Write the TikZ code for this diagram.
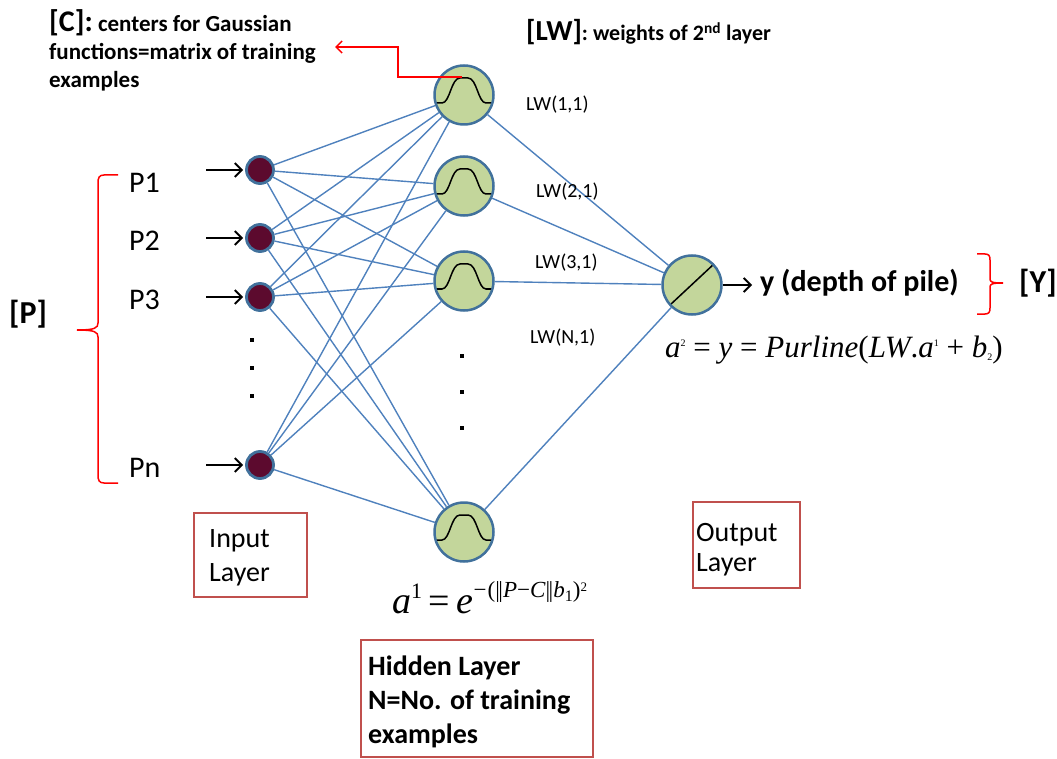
\documentclass[tikz,border=0pt]{standalone}
\usepackage{fontspec}
\setmainfont{Carlito}
\newfontfamily\tnr{Liberation Serif}
\usetikzlibrary{arrows.meta,calc}
\definecolor{lineblue}{HTML}{4F81BD}
\definecolor{nodeborder}{HTML}{41719C}
\definecolor{hidfill}{HTML}{C3D69B}
\definecolor{inpfill}{HTML}{5C0A2E}
\definecolor{boxred}{HTML}{C0504D}
\definecolor{bracered}{HTML}{FF0000}
\newcommand{\fsz}[1]{\fontsize{#1}{#1}\selectfont}
\begin{document}
\begin{tikzpicture}[x=1pt,y=-1pt,
  inp/.style={circle,fill=inpfill,draw=nodeborder,line width=2.8pt,minimum size=27pt,inner sep=0pt},
  gauss/.style={circle,fill=hidfill,draw=nodeborder,line width=2.5pt,minimum size=59pt,inner sep=0pt,
    path picture={\draw[black,line width=1.5pt,shift={(path picture bounding box.center)}]
      (-31pt,-8pt) -- (-22pt,-8pt) .. controls (-14pt,-8pt) and (-13pt,17pt) .. (-4pt,17pt)
      -- (4pt,17pt) .. controls (13pt,17pt) and (14pt,-8pt) .. (22pt,-8pt) -- (31pt,-8pt);}},
  linear/.style={circle,fill=hidfill,draw=nodeborder,line width=2.5pt,minimum size=59pt,inner sep=0pt,
    path picture={\draw[black,line width=1.5pt,shift={(path picture bounding box.center)}]
      (-22pt,-20pt) -- (23pt,22pt);}},
  conn/.style={lineblue,line width=1.4pt},
  inarrow/.style={black,line width=1.9pt,shorten >=2pt,-{Straight Barb[length=7pt,width=14pt]}},
  redarrow/.style={bracered,line width=1.5pt,-{Straight Barb[length=6pt,width=12pt]}},
  brace/.style={bracered,line width=1.5pt},
  layerbox/.style={draw=boxred,line width=2.5pt,fill=white},
  dotmark/.style={fill=black,minimum size=4pt,inner sep=0pt},
  lw/.style={font=\fsz{20},inner sep=0pt},
  plabel/.style={font=\fsz{30},anchor=west,inner sep=0pt},
  boxtext/.style={align=left,anchor=base west,inner sep=0pt},
]
\useasboundingbox (0,0) rectangle (1057,759);
% layers
\node[inp] (i1) at (260,170) {};
\node[inp] (i2) at (260,238) {};
\node[inp] (i3) at (260,297) {};
\node[inp] (in) at (260,465) {};
\node[gauss] (h1) at (464,95) {};
\node[gauss] (h2) at (464,186) {};
\node[gauss] (h3) at (464,281) {};
\node[gauss] (hn) at (464,532) {};
\node[linear] (o) at (692,285) {};
% connections input -> hidden
\foreach \a in {i1,i2,i3,in}
  \foreach \b in {h1,h2,h3,hn}
    \draw[conn] (\a) -- (\b);
\foreach \b in {h1,h2,h3,hn}
  \draw[conn] (\b) -- (o);
% input arrows
\coordinate (a1) at (206,170);
\coordinate (a2) at (206,238);
\coordinate (a3) at (206,297);
\coordinate (an) at (206,465);
\draw[inarrow] (a1) -- (i1);
\draw[inarrow] (a2) -- (i2);
\draw[inarrow] (a3) -- (i3);
\draw[inarrow] (an) -- (in);
% output arrow
\coordinate (yend) at (752,285);
\draw[inarrow,shorten >=0pt] (o) -- (yend);
% dots
\node[dotmark] (d1) at (252,340) {};
\node[dotmark] (d2) at (252,368) {};
\node[dotmark] (d3) at (252,396) {};
\node[dotmark] (d4) at (462,356) {};
\node[dotmark] (d5) at (462,392) {};
\node[dotmark] (d6) at (462,428) {};
% input labels
\node[plabel] (p1) at (129,183) {P1};
\node[plabel] (p2) at (129,241) {P2};
\node[plabel] (p3) at (129,300) {P3};
\node[plabel] (pn) at (129,468) {Pn};
% [P] brace
\draw[brace] (118,175) -- (104,175) .. controls (99,175) and (98,178) .. (98,183)
  -- (98,323) .. controls (98,328) and (95,330) .. (77,330)
  .. controls (95,330) and (98,332) .. (98,337) -- (98,475)
  .. controls (98,480) and (99,483) .. (104,483) -- (118,483);
\node[font=\bfseries\fsz{32},anchor=west,inner sep=0pt] (P) at (9,314) {[P]};
% [Y] brace
\draw[brace] (977,254) -- (985,254) .. controls (989,254) and (990,256) .. (990,260)
  -- (990,279) .. controls (990,282) and (992,283) .. (1003,283)
  .. controls (992,283) and (990,284) .. (990,287) -- (990,308)
  .. controls (990,312) and (989,314) .. (985,314) -- (977,314);
\node[font=\bfseries\fsz{32},anchor=west,inner sep=0pt] (Y) at (1019,283) {[Y]};
\node[font=\bfseries\fsz{30},anchor=west,inner sep=0pt] (yl) at (760,283) {y (depth of pile)};
% LW labels
\node[lw,anchor=west] (lw1) at (526,105) {LW(1,1)};
\node[lw,anchor=west] (lw2) at (536,192) {LW(2,1)};
\node[lw,anchor=west] (lw3) at (535,263) {LW(3,1)};
\node[lw,anchor=west] (lwn) at (530,338) {LW(N,1)};
% header texts
\node[font=\bfseries\fontsize{23}{28}\selectfont,align=left,anchor=base west,inner sep=0pt] (ctext) at (49,88)
  {{\fsz{30}[C]:} centers for Gaussian\\ functions=matrix of training\\ examples};
\node[font=\bfseries\fsz{22},anchor=base west,inner sep=0pt] (lwtext) at (526,41)
  {{\fsz{29}[LW]}: weights of 2\textsuperscript{nd} layer};
% red arrow
\coordinate (cstart) at (462,77);
\coordinate (ctip) at (335,47);
\draw[redarrow] (cstart) -- (398,77) |- (ctip);
% formulas
\node[anchor=base west,inner sep=0pt,font=\tnr\fsz{38}] (f1) at (392,613)
  {\textit{a}\raisebox{15pt}{\fsz{22}1}\,=\,\textit{e}\raisebox{16pt}{\fsz{23}\kern-1pt\textit{−}(|\kern-1.5pt|\textit{P}−\textit{C}|\kern-1.5pt|\textit{b}\raisebox{-4pt}{\fsz{16}1})\raisebox{6pt}{\fsz{13}2}}};
\node[anchor=base west,inner sep=0pt,font=\tnr\fsz{31}] (f2) at (665,357)
  {\textit{a}\raisebox{11pt}{\fsz{10}2} = \textit{y} = \textit{Purline}(\textit{LW}.\textit{a}\raisebox{11pt}{\fsz{10}1} + \textit{b}\raisebox{-3pt}{\fsz{10}2})};
% layer boxes
\draw[layerbox] (194,513) rectangle (307,597);
\node[boxtext,font=\fontsize{28}{34}\selectfont] (inlab) at (209,581) {Input\\Layer};
\draw[layerbox] (693,502) rectangle (800,588);
\node[boxtext,font=\fontsize{28}{30}\selectfont] (outlab) at (696,571) {Output\\Layer};
\draw[layerbox] (361,640) rectangle (593,757);
\node[boxtext,font=\bfseries\fontsize{28}{34}\selectfont] (hidlab) at (368,743) {Hidden Layer\\N=No. of training\\examples};
\end{tikzpicture}
\end{document}
